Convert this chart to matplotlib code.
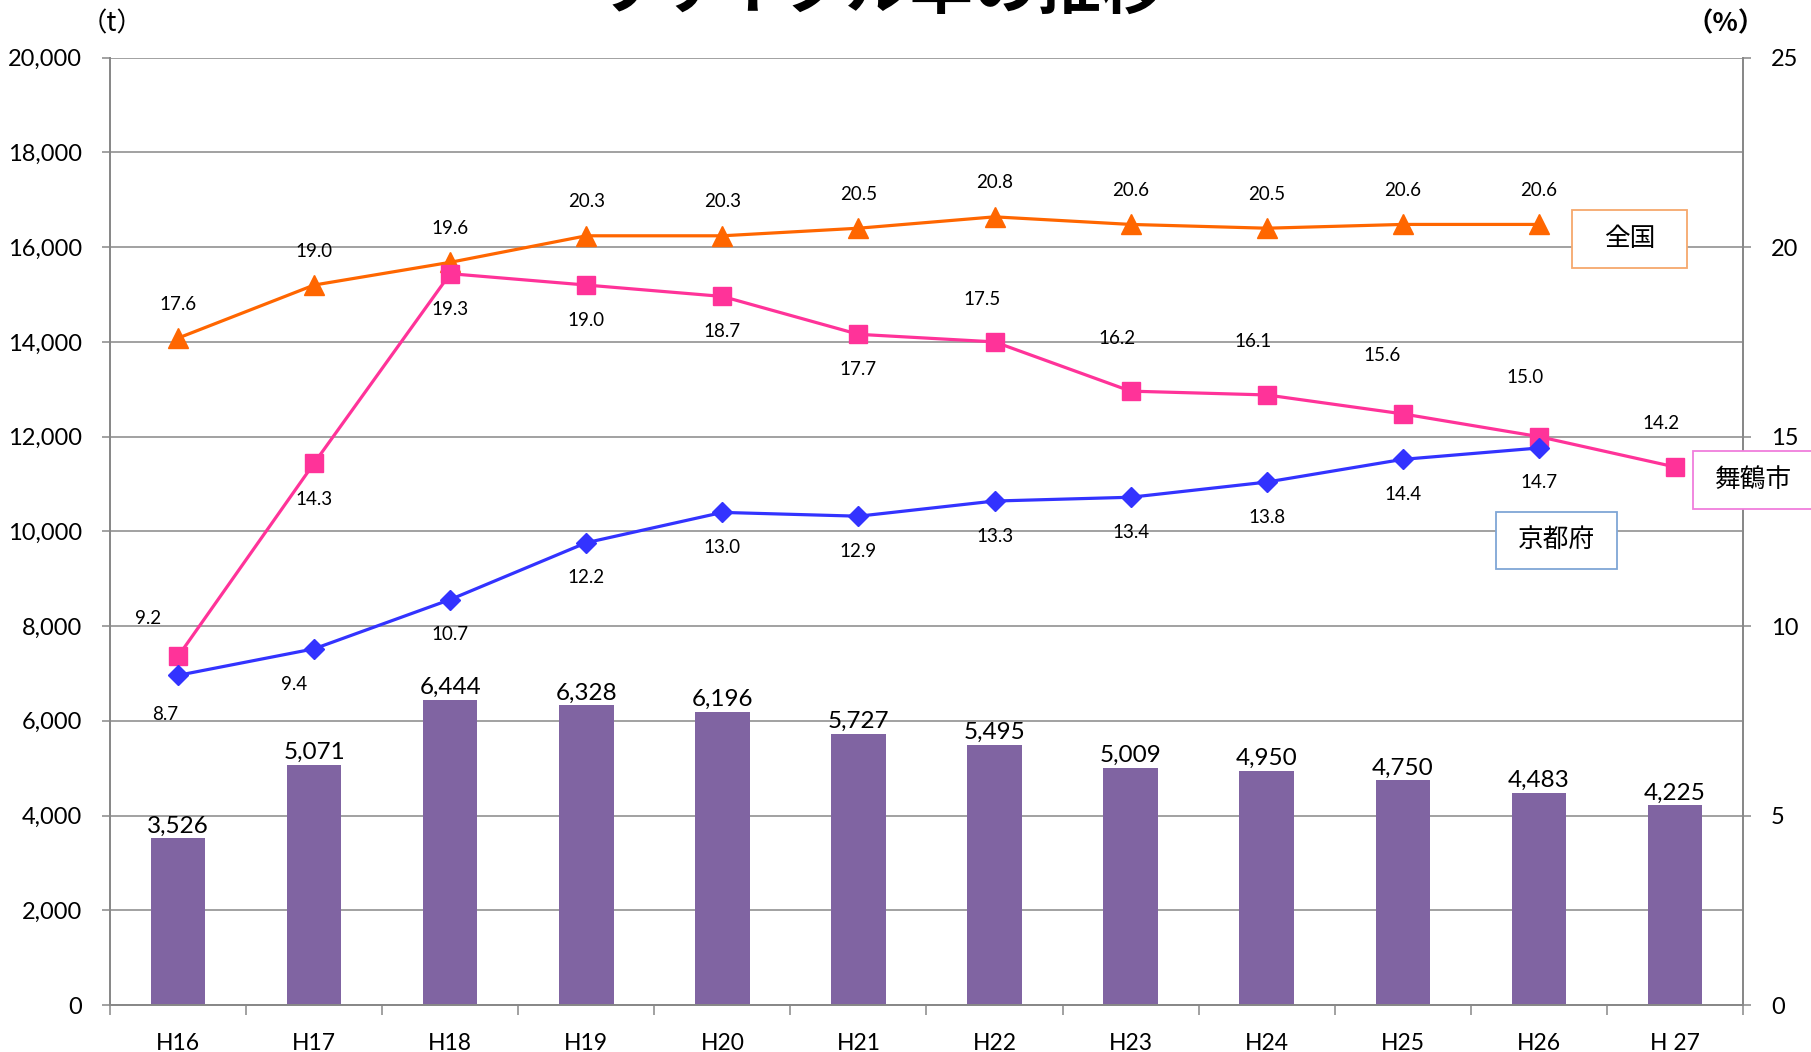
import matplotlib
matplotlib.use("Agg")
import matplotlib.pyplot as plt
from matplotlib.patches import Rectangle
import numpy as np

plt.rcParams['font.family'] = ['Lato', 'Noto Sans CJK JP', 'DejaVu Sans']

# ---- data ----
categories = ["H16", "H17", "H18", "H19", "H20", "H21", "H22", "H23", "H24", "H25", "H26", "H 27"]
amount_t = [3526, 5071, 6444, 6328, 6196, 5727, 5495, 5009, 4950, 4750, 4483, 4225]
rate_national = [17.6, 19.0, 19.6, 20.3, 20.3, 20.5, 20.8, 20.6, 20.5, 20.6, 20.6]
rate_maizuru = [9.2, 14.3, 19.3, 19.0, 18.7, 17.7, 17.5, 16.2, 16.1, 15.6, 15.0, 14.2]
rate_kyoto = [8.7, 9.4, 10.7, 12.2, 13.0, 12.9, 13.3, 13.4, 13.8, 14.4, 14.7]
left_ticks = [0, 2000, 4000, 6000, 8000, 10000, 12000, 14000, 16000, 18000, 20000]
right_ticks = [0, 5, 10, 15, 20, 25]

# label offsets (pixels) for line data labels
off_national = [(0, 34)] * 11
off_maizuru = [(-30, 38), (0, -36), (0, -36), (0, -35), (0, -35), (0, -35),
               (-12, 42), (-14, 53), (-14, 53), (-21, 58), (-14, 59), (-14, 43)]
off_kyoto = [(-13, -39), (-20, -36)] + [(0, -35)] * 9

W, H = 1811, 1052
DPI = 100
fig = plt.figure(figsize=(W / DPI, H / DPI), dpi=DPI)
ax = fig.add_axes([110 / W, 1 - 1005 / H, (1743 - 110) / W, (1005 - 57.7) / H])
ax2 = ax.twinx()

grid_c = '#888888'
x = np.arange(len(categories))

# bars
bars = ax.bar(x, amount_t, width=0.40, color='#8064A2', zorder=2)
for xi, v in zip(x, amount_t):
    ax.annotate(f"{v:,}", (xi, v), xytext=(0, 12 * 0.72), textcoords='offset points',
                ha='center', va='center', fontsize=17.5, color='black', zorder=5)

ax.set_xlim(-0.5, len(categories) - 0.5)
ax.set_ylim(0, 20000)
ax.set_yticks(left_ticks)
ax.set_yticklabels([f"{t:,}" for t in left_ticks])
ax.yaxis.grid(True, color=grid_c, linewidth=1.1, zorder=0)
ax.set_axisbelow(True)
ax.set_xticks(x)
ax.set_xticklabels(categories)
ax.set_xticks(np.arange(-0.5, len(categories), 1.0), minor=True)
ax.tick_params(axis='x', which='major', length=0, labelsize=16.5, pad=20)
ax.tick_params(axis='x', which='minor', length=7, color=grid_c, width=1.1, direction='out')
ax.tick_params(axis='y', length=6, color=grid_c, width=1.1, labelsize=17, pad=14)

for s in ['top']:
    ax.spines[s].set_visible(False)
    ax2.spines[s].set_visible(False)
for a in (ax, ax2):
    for s in ['left', 'right', 'bottom']:
        a.spines[s].set_color(grid_c)
        a.spines[s].set_linewidth(1.3)

ax2.set_ylim(0, 25)
ax2.set_yticks(right_ticks)
ax2.tick_params(axis='y', length=6, color=grid_c, width=1.1, labelsize=17, pad=14)

def draw_line(vals, color, marker, ms, offs, z):
    xs = x[:len(vals)]
    ax2.plot(xs, vals, color=color, linewidth=2.3, marker=marker, markersize=ms,
             markeredgecolor=color, markerfacecolor=color, zorder=z, clip_on=False)
    for xi, v, (dx, dy) in zip(xs, vals, offs):
        ax2.annotate(f"{v:.1f}", (xi, v), xytext=(dx * 0.72, dy * 0.72),
                     textcoords='offset points', ha='center', va='center',
                     fontsize=13.5, color='black', zorder=6)

draw_line(rate_national, '#FF6600', '^', 14, off_national, 3)
draw_line(rate_maizuru, '#FF3399', 's', 13, off_maizuru, 4)
draw_line(rate_kyoto, '#3333FF', 'D', 10, off_kyoto, 5)

# series name boxes
def name_box(x0, y0, x1, y1, text, ec):
    r = Rectangle((x0 / W, 1 - y1 / H), (x1 - x0) / W, (y1 - y0) / H,
                  transform=fig.transFigure, facecolor='white', edgecolor=ec,
                  linewidth=1.3, zorder=10)
    fig.patches.append(r)
    fig.text((x0 + x1) / 2 / W, 1 - (y0 + y1) / 2 / H, text, ha='center', va='center',
             fontsize=18.5, family=['Noto Sans CJK JP'], zorder=11)

name_box(1572, 210, 1687, 268, "全国", '#F6A86C')
name_box(1693, 451, 1812, 509, "舞鶴市", '#F07EDC')
name_box(1496, 512, 1617, 569, "京都府", '#7FA6D6')

# unit labels
fig.text(112 / W, 1 - 24 / H, "（t）", ha='center', va='center', fontsize=19,
         family=['Noto Sans CJK JP'])
fig.text(1726 / W, 1 - 24 / H, "（%）", ha='center', va='center', fontsize=19,
         family=['Noto Sans CJK JP'], fontweight='bold')

# title (top cut off as in the reference)
fig.text(878 / W, 1 - 8 / H, "リサイクル率の推移", ha='center', va='baseline',
         fontsize=46, fontweight='bold', family=['Noto Sans CJK JP'])

fig.savefig("out.png", dpi=DPI)
